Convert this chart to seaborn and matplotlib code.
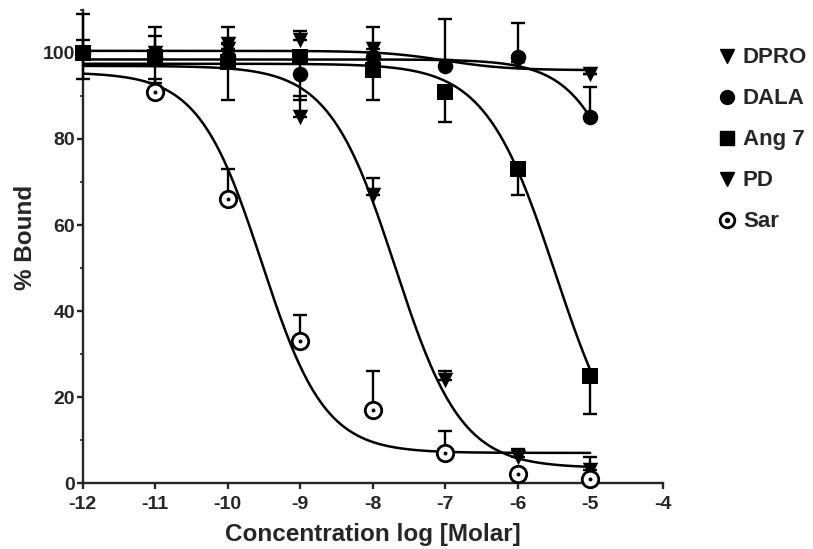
import numpy as np
import pandas as pd
import matplotlib
matplotlib.use('Agg')
import matplotlib.pyplot as plt
import seaborn as sns
from matplotlib.lines import Line2D
from matplotlib.ticker import MultipleLocator

# log concentrations used in the binding assay
log_conc = [-12, -11, -10, -9, -8, -7, -6, -5]

# mean % bound per peptide (nan = no point shown)
dpro = [100, 100, 102, 103, 101, 97, 98, 95]
dala = [100, 99, 99, 95, 99, 97, 99, 85]
ang7 = [100, 99, 98, 99, 96, 91, 73, 25]
pd_vals = [100, 99, 101, 85, 67, 24, 6, 3]
sar = [np.nan, 91, 66, 33, 17, 7, 2, 1]

# SEM values
dpro_err = [9, 6, 4, 2, 5, 0, 0, 0]
dala_err = [3, 5, 0, 0, 0, 11, 8, 7]
ang7_err = [6, 6, 9, 10, 7, 7, 6, 9]
pd_err = [0, 0, 0, 5, 4, 2, 2, 3]
sar_err = [0, 3, 7, 6, 9, 5, 0, 0]

# fitted one-site curves: top, bottom, logIC50, hill slope
dpro_fit = [100.5, 96.0, -7.0, 1.0]
dala_fit = [98.5, 0.0, -4.2, 1.0]
ang7_fit = [97.5, 0.0, -5.48, 0.9]
pd_fit = [97.0, 3.5, -7.69, 0.95]
sar_fit = [95.5, 7.0, -9.53, 1.0]

names = ['DPRO', 'DALA', 'Ang 7', 'PD', 'Sar']
values = [dpro, dala, ang7, pd_vals, sar]
errors = [dpro_err, dala_err, ang7_err, pd_err, sar_err]
fits = [dpro_fit, dala_fit, ang7_fit, pd_fit, sar_fit]
markers = ['v', 'o', 's', 'v', 'o']
bars_down = ['Ang 7']  # Ang 7 bars are drawn below the points

sns.set_style('ticks')
plt.rcParams['font.family'] = ['Liberation Sans', 'DejaVu Sans']
plt.rcParams['font.weight'] = 'bold'
plt.rcParams['axes.unicode_minus'] = False  # plain hyphens like the original

fig = plt.figure(figsize=(8.13, 5.49), dpi=100)
ax = fig.add_axes([0.1017, 0.1202, 0.7134, 0.8616])

xs = np.linspace(log_conc[0], log_conc[-1], 300)
for name, y, err, fit, mk in zip(names, values, errors, fits, markers):
    top, bottom, ic50, hill = fit
    curve = bottom + (top - bottom) / (1 + 10 ** ((xs - ic50) * hill))
    sns.lineplot(x=xs, y=curve, color='black', linewidth=1.8, ax=ax, zorder=2)

    err = np.array(err, dtype=float)
    zeros = np.zeros_like(err)
    yerr = [err, zeros] if name in bars_down else [zeros, err]
    ax.errorbar(log_conc, y, yerr=yerr, fmt='none', ecolor='black',
                elinewidth=1.7, capsize=5.2, capthick=1.7, clip_on=False, zorder=3)

    df = pd.DataFrame({'x': log_conc, 'y': y}).dropna()
    if name == 'Sar':
        sns.scatterplot(data=df, x='x', y='y', marker='o', s=140, facecolor='white',
                        edgecolor='black', linewidth=2.0, ax=ax, zorder=4, clip_on=False)
        sns.scatterplot(data=df, x='x', y='y', marker='o', s=8, color='black',
                        linewidth=0, ax=ax, zorder=5, clip_on=False)
    else:
        sns.scatterplot(data=df, x='x', y='y', marker=mk, s=125, color='black',
                        linewidth=0, ax=ax, zorder=4, clip_on=False)

ax.set_xlim(-12, -4)
ax.set_ylim(0, 110)
ax.set_xticks(range(-12, -3))
ax.set_yticks(range(0, 101, 20))
ax.yaxis.set_minor_locator(MultipleLocator(10))
sns.despine(ax=ax)
for side in ['left', 'bottom']:
    ax.spines[side].set_linewidth(1.7)
ax.tick_params(axis='both', which='major', length=4, width=1.7, labelsize=14)
ax.tick_params(axis='x', which='major', pad=5.5)
ax.tick_params(axis='y', which='major', pad=1.5)
ax.tick_params(axis='y', which='minor', length=2.5, width=1.2)
for lab in ax.get_xticklabels() + ax.get_yticklabels():
    lab.set_fontweight('bold')

ax.set_xlabel('Concentration log [Molar]', fontsize=17.5, fontweight='bold', labelpad=7)
ax.set_ylabel('% Bound', fontsize=17.5, fontweight='bold')
ax.yaxis.set_label_coords(-0.079, 0.52)

handles = []
for name, mk in zip(names, markers):
    if name == 'Sar':
        ring = Line2D([], [], marker='o', linestyle='none', markersize=10.5,
                      markerfacecolor='white', markeredgecolor='black', markeredgewidth=2.0)
        dot = Line2D([], [], marker='o', linestyle='none', markersize=2.8, color='black')
        handles.append((ring, dot))
    else:
        handles.append(Line2D([], [], marker=mk, linestyle='none', markersize=10, color='black'))
fig.legend(handles, names, loc='upper left', bbox_to_anchor=(0.855, 0.95),
           frameon=False, prop={'size': 16, 'weight': 'bold'}, handletextpad=0.15,
           labelspacing=0.9, handlelength=1.1)

fig.savefig('out.png', dpi=100)
